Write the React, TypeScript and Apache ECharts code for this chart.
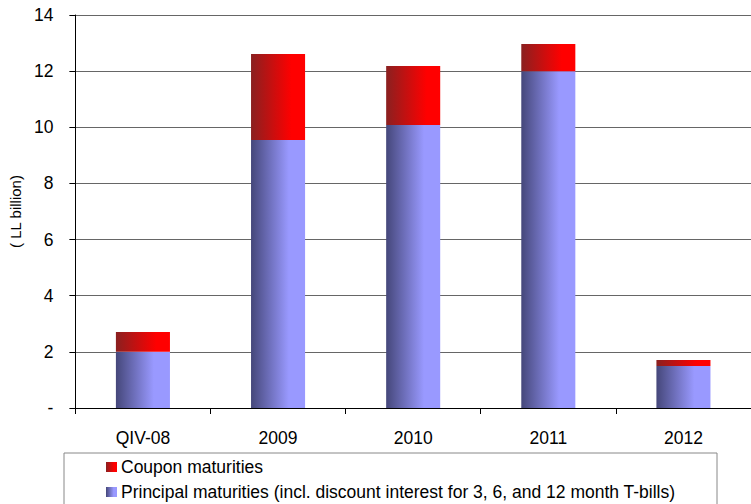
import React, { useEffect, useRef } from "react";
import * as echarts from "echarts";

const categories = ["QIV-08", "2009", "2010", "2011", "2012"];
const principal = [2.0, 9.55, 10.08, 12.0, 1.5];
const coupon = [0.71, 3.06, 2.1, 0.97, 0.21];
const yTicks = { min: 0, max: 14, interval: 2 };
const seriesNames = [
  "Coupon maturities",
  "Principal maturities (incl. discount interest for 3, 6, and 12 month T-bills)",
];

const FONT = "'Liberation Sans', Arial, Helvetica, sans-serif";

export default function App() {
  const ref = useRef<HTMLDivElement>(null);
  useEffect(() => {
    if (!ref.current) return;
    const chart = echarts.init(ref.current, null, { renderer: "svg" });
    const blueGrad = new echarts.graphic.LinearGradient(0, 0, 1, 0, [
      { offset: 0, color: "#45477a" },
      { offset: 0.7, color: "#9999ff" },
      { offset: 1, color: "#9999ff" },
    ]);
    const redGrad = new echarts.graphic.LinearGradient(0, 0, 1, 0, [
      { offset: 0, color: "#8a2020" },
      { offset: 0.75, color: "#ff0000" },
      { offset: 1, color: "#ff0000" },
    ]);
    const legendBase = {
      orient: "horizontal",
      left: 106,
      itemWidth: 11,
      itemHeight: 10,
      itemGap: 6,
      icon: "rect",
      textStyle: { fontSize: 17.5, color: "#000", fontFamily: FONT, padding: [0, 0, 0, -1] },
      selectedMode: false,
      padding: 0,
    };
    chart.setOption({
      animation: false,
      backgroundColor: "#ffffff",
      textStyle: { fontFamily: FONT },
      grid: { left: 71, top: 15, bottom: 96, right: -8, containLabel: false },
      legend: [
        { ...legendBase, top: 458, data: [seriesNames[0]] },
        { ...legendBase, top: 483, data: [seriesNames[1]] },
      ],
      graphic: [
        {
          type: "rect",
          shape: { x: 64, y: 453, width: 653, height: 60 },
          style: { fill: "none", stroke: "#888", lineWidth: 1 },
          silent: true,
        },
      ],
      xAxis: {
        type: "category",
        data: categories,
        axisLine: { show: true, lineStyle: { color: "#000", width: 1 } },
        axisTick: { show: true, length: 6, alignWithLabel: false, lineStyle: { color: "#000" } },
        axisLabel: { fontSize: 17.5, color: "#000", margin: 21, fontFamily: FONT },
      },
      yAxis: {
        type: "value",
        min: yTicks.min,
        max: yTicks.max,
        interval: yTicks.interval,
        name: "( LL billion)",
        nameLocation: "middle",
        nameGap: 52,
        nameRotate: 90,
        nameTextStyle: { fontSize: 15, color: "#000", fontFamily: FONT },
        axisLine: { show: true, lineStyle: { color: "#000", width: 1 } },
        axisTick: { show: true, length: 6, lineStyle: { color: "#000" } },
        axisLabel: {
          fontSize: 17.5,
          color: "#000",
          margin: 22,
          fontFamily: FONT,
          formatter: (v: number) => (v === 0 ? "-" : String(v)),
        },
        splitLine: { show: true, lineStyle: { color: "#666", width: 1 } },
      },
      series: [
        {
          name: seriesNames[1],
          type: "bar",
          stack: "total",
          data: principal,
          barWidth: "40%",
          itemStyle: { color: blueGrad },
        },
        {
          name: seriesNames[0],
          type: "bar",
          stack: "total",
          data: coupon,
          barWidth: "40%",
          itemStyle: { color: redGrad },
        },
      ],
    });
    return () => chart.dispose();
  }, []);
  return <div ref={ref} style={{ width: 751, height: 504, position: "absolute", left: 0, top: 0 }} />;
}
